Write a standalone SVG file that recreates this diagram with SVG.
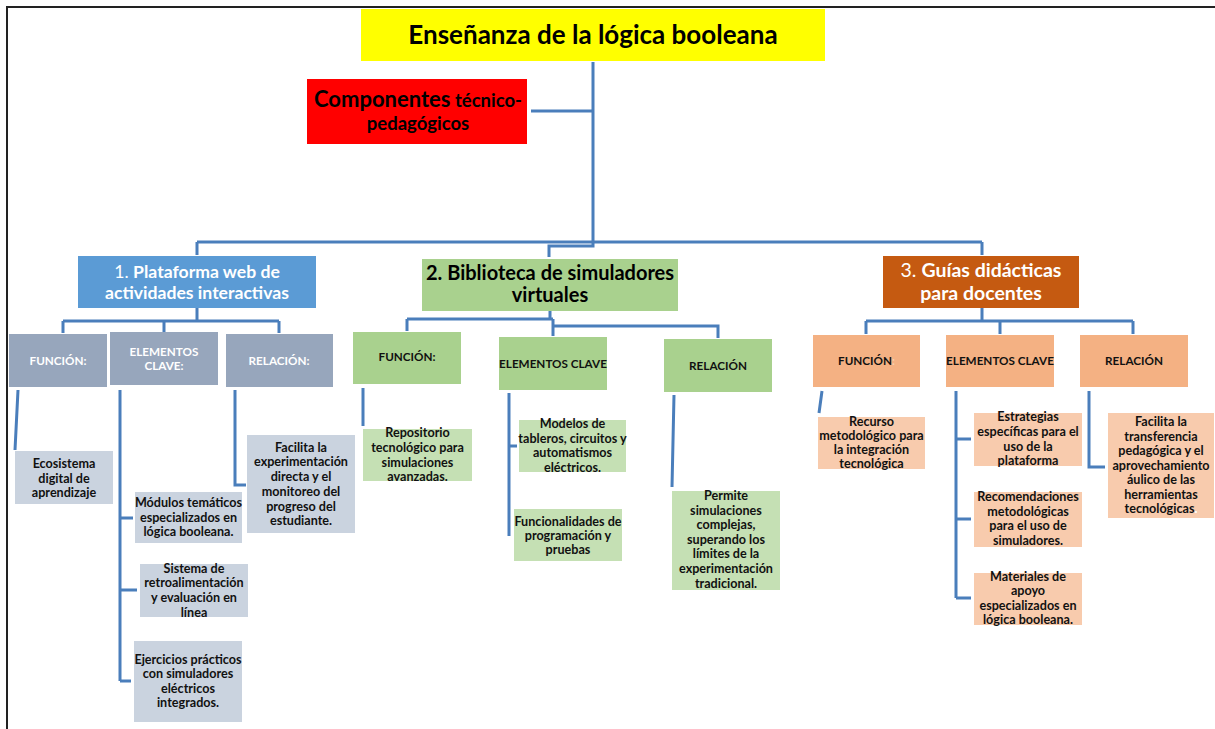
<svg xmlns="http://www.w3.org/2000/svg" width="1215" height="729" viewBox="0 0 1215 729">
<style>
.c{fill:none;stroke:#4A7EBB;stroke-width:3}
.t{font-family:Lato,"Liberation Sans",sans-serif;font-weight:bold;text-anchor:middle}
.s{font-size:12.6px;fill:#111}
.h{font-size:11.7px}
.w{fill:#fff}
.k{fill:#000}
.g1{fill:#97A6BC}.g2{fill:#CAD3DF}
.v1{fill:#A9D18E}.v2{fill:#C5E0B4}
.p1{fill:#F4B183}.p2{fill:#F8CBAD}
</style>
<rect width="1215" height="729" fill="#fff"/>
<path d="M7,729 V7 H1215" fill="none" stroke="#222" stroke-width="2"/>
<g id="connectors">
<path class="c" d="M593,62 V242 M531,111 H593 M197,242 H982 M197,242 V255 M593,242 V246 H549 V257 M982,242 V255"/>
<path class="c" d="M197,308 V321 M63,321 H279 M63,321 V333 M164,321 V332 M279,321 V333"/>
<path class="c" d="M18,390 L15,450 M120,390 V681 M120,518 H133 M120,590 H137 M120,681 H131 M235,390 V485 H246"/>
<path class="c" d="M550,311 V319 M407,319 H553 M407,319 V331 M553,319 V336 M553,326 H718 V338"/>
<path class="c" d="M363,388 V426 M509,393 V536 M509,446 H517 M674,395 L672,487"/>
<path class="c" d="M982,308 V321 M866,321 H1133 M866,321 V334 M1000,321 V334 M1133,321 V334"/>
<path class="c" d="M822,391 L819,413 M956,391 V598 M956,439 H971 M956,519 H971 M956,598 H971 M1089,391 V467 H1105"/>
</g>
<g id="title">
<rect x="361" y="9" width="464" height="52" fill="#FFFF00"/>
<text class="t k" x="593" y="44" font-size="26">Enseñanza de la lógica booleana</text>
</g>
<g id="componentes">
<rect x="307" y="79" width="220" height="65" fill="#FF0000"/>
<text class="t k" x="418" y="107"><tspan font-size="22">Componentes</tspan><tspan font-size="18.5"> técnico-</tspan></text>
<text class="t k" x="418" y="130" font-size="18.5">pedagógicos</text>
</g>
<g id="n1">
<rect x="78" y="256" width="238" height="52" fill="#5B9BD5"/>
<text class="t w" x="197" y="278" font-size="17.6"><tspan font-weight="normal">1. </tspan>Plataforma web de</text>
<text class="t w" x="197" y="299" font-size="17.6">actividades interactivas</text>
</g>
<g id="n1-funcion">
<rect class="g1" x="9" y="334" width="98" height="53"/>
<text class="t h w" x="58" y="365">FUNCIÓN:</text>
</g>
<g id="n1-elementos">
<rect class="g1" x="110" y="332" width="108" height="53"/>
<text class="t h w" x="164" y="356">ELEMENTOS</text>
<text class="t h w" x="164" y="370">CLAVE:</text>
</g>
<g id="n1-relacion">
<rect class="g1" x="226" y="334" width="107" height="53"/>
<text class="t h w" x="279" y="365">RELACIÓN:</text>
</g>
<g id="n1-ecosistema">
<rect class="g2" x="15" y="451" width="98" height="53"/>
<text class="t s" x="64" y="468">Ecosistema</text>
<text class="t s" x="64" y="483">digital de</text>
<text class="t s" x="64" y="497">aprendizaje</text>
</g>
<g id="n1-modulos">
<rect class="g2" x="135" y="492" width="107" height="51"/>
<text class="t s" x="188.5" y="507">Módulos temáticos</text>
<text class="t s" x="188.5" y="522">especializados en</text>
<text class="t s" x="188.5" y="536">lógica booleana.</text>
</g>
<g id="n1-sistema">
<rect class="g2" x="140" y="564" width="108" height="53"/>
<text class="t s" x="194" y="573">Sistema de</text>
<text class="t s" x="194" y="587">retroalimentación</text>
<text class="t s" x="194" y="602">y evaluación en</text>
<text class="t s" x="194" y="617">línea</text>
</g>
<g id="n1-ejercicios">
<rect class="g2" x="134" y="641" width="108" height="81"/>
<text class="t s" x="188" y="664">Ejercicios prácticos</text>
<text class="t s" x="188" y="678">con simuladores</text>
<text class="t s" x="188" y="693">eléctricos</text>
<text class="t s" x="188" y="707">integrados.</text>
</g>
<g id="n1-facilita">
<rect class="g2" x="247" y="435" width="108" height="98"/>
<text class="t s" x="301" y="452">Facilita la</text>
<text class="t s" x="301" y="466">experimentación</text>
<text class="t s" x="301" y="481">directa y el</text>
<text class="t s" x="301" y="496">monitoreo del</text>
<text class="t s" x="301" y="511">progreso del</text>
<text class="t s" x="301" y="525">estudiante.</text>
</g>
<g id="n2">
<rect class="v1" x="422" y="259" width="256" height="52"/>
<text class="t k" x="550" y="280" font-size="20">2. Biblioteca de simuladores</text>
<text class="t k" x="550" y="302" font-size="20">virtuales</text>
</g>
<g id="n2-funcion">
<rect class="v1" x="353" y="332" width="108" height="52"/>
<text class="t s h" x="407" y="361">FUNCIÓN:</text>
</g>
<g id="n2-elementos">
<rect class="v1" x="499" y="337" width="108" height="53"/>
<text class="t s h" x="553" y="368">ELEMENTOS CLAVE</text>
</g>
<g id="n2-relacion">
<rect class="v1" x="664" y="339" width="108" height="53"/>
<text class="t s h" x="718" y="370">RELACIÓN</text>
</g>
<g id="n2-repositorio">
<rect class="v2" x="363" y="429" width="109" height="52"/>
<text class="t s" x="417.5" y="437">Repositorio</text>
<text class="t s" x="417.5" y="452">tecnológico para</text>
<text class="t s" x="417.5" y="467">simulaciones</text>
<text class="t s" x="417.5" y="481">avanzadas.</text>
</g>
<g id="n2-modelos">
<rect class="v2" x="519" y="420" width="107" height="52"/>
<text class="t s" x="572.5" y="428">Modelos de</text>
<text class="t s" x="572.5" y="442.5">tableros, circuitos y</text>
<text class="t s" x="572.5" y="457">automatismos</text>
<text class="t s" x="572.5" y="471.5">eléctricos.</text>
</g>
<g id="n2-funcionalidades">
<rect class="v2" x="514" y="509" width="108" height="52"/>
<text class="t s" x="568" y="526">Funcionalidades de</text>
<text class="t s" x="568" y="540">programación y</text>
<text class="t s" x="568" y="554">pruebas</text>
</g>
<g id="n2-permite">
<rect class="v2" x="672" y="491" width="108" height="99"/>
<text class="t s" x="726" y="500">Permite</text>
<text class="t s" x="726" y="515">simulaciones</text>
<text class="t s" x="726" y="529">complejas,</text>
<text class="t s" x="726" y="544">superando los</text>
<text class="t s" x="726" y="558">límites de la</text>
<text class="t s" x="726" y="573">experimentación</text>
<text class="t s" x="726" y="588">tradicional.</text>
</g>
<g id="n3">
<rect x="883" y="256" width="196" height="52" fill="#C55A11"/>
<text class="t w" x="981" y="277" font-size="19.5"><tspan font-weight="normal">3. </tspan>Guías didácticas</text>
<text class="t w" x="981" y="300" font-size="19.5">para docentes</text>
</g>
<g id="n3-funcion">
<rect class="p1" x="813" y="335" width="107" height="52"/>
<text class="t s h" x="866.5" y="365">FUNCIÓN<tspan fill="#F8D0B0">:</tspan></text>
</g>
<g id="n3-elementos">
<rect class="p1" x="946" y="335" width="108" height="52"/>
<text class="t s h" x="1000" y="365">ELEMENTOS CLAVE</text>
</g>
<g id="n3-relacion">
<rect class="p1" x="1080" y="335" width="108" height="52"/>
<text class="t s h" x="1134" y="365">RELACIÓN</text>
</g>
<g id="n3-recurso">
<rect class="p2" x="818" y="417" width="107" height="52"/>
<text class="t s" x="871.5" y="426">Recurso</text>
<text class="t s" x="871.5" y="440">metodológico para</text>
<text class="t s" x="871.5" y="454">la integración</text>
<text class="t s" x="871.5" y="468">tecnológica</text>
</g>
<g id="n3-estrategias">
<rect class="p2" x="974" y="413" width="108" height="53"/>
<text class="t s" x="1028" y="421">Estrategias</text>
<text class="t s" x="1028" y="436">específicas para el</text>
<text class="t s" x="1028" y="451">uso de la</text>
<text class="t s" x="1028" y="465">plataforma</text>
</g>
<g id="n3-recomendaciones">
<rect class="p2" x="974" y="492" width="108" height="55"/>
<text class="t s" x="1028" y="501">Recomendaciones</text>
<text class="t s" x="1028" y="516">metodológicas</text>
<text class="t s" x="1028" y="530">para el uso de</text>
<text class="t s" x="1028" y="545">simuladores.</text>
</g>
<g id="n3-materiales">
<rect class="p2" x="974" y="573" width="108" height="52"/>
<text class="t s" x="1028" y="581">Materiales de</text>
<text class="t s" x="1028" y="595">apoyo</text>
<text class="t s" x="1028" y="610">especializados en</text>
<text class="t s" x="1028" y="624">lógica booleana.</text>
</g>
<g id="n3-facilita">
<rect class="p2" x="1108" y="413" width="106" height="105"/>
<text class="t s" x="1161" y="426">Facilita la</text>
<text class="t s" x="1161" y="441">transferencia</text>
<text class="t s" x="1161" y="455">pedagógica y el</text>
<text class="t s" x="1161" y="470">aprovechamiento</text>
<text class="t s" x="1161" y="484">áulico de las</text>
<text class="t s" x="1161" y="499">herramientas</text>
<text class="t s" x="1161" y="513">tecnológicas<tspan fill="#fff">.</tspan></text>
</g>
</svg>
